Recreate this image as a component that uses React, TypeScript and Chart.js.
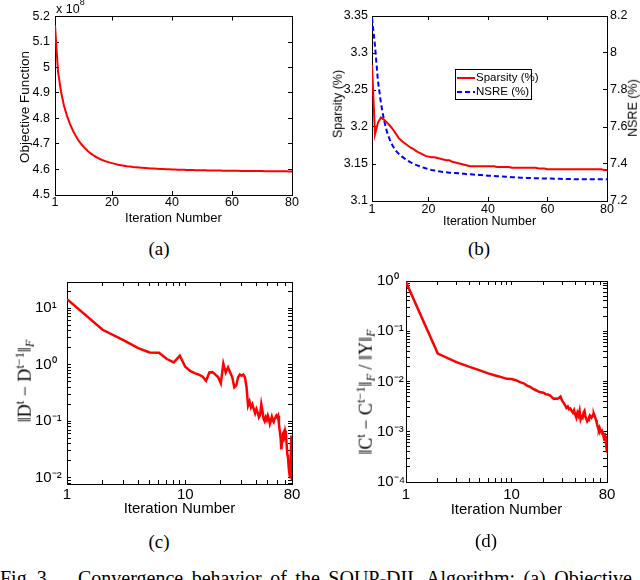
import React, { useEffect, useRef } from "react";
import { Chart, registerables } from "chart.js";

Chart.register(...registerables);

// ---------- data ----------
const iterations = [
  1, 2, 3, 4, 5, 6, 7, 8, 9, 10, 11, 12, 13, 14, 15, 16, 17, 18, 19, 20,
  21, 22, 23, 24, 25, 26, 27, 28, 29, 30, 31, 32, 33, 34, 35, 36, 37, 38, 39, 40,
  41, 42, 43, 44, 45, 46, 47, 48, 49, 50, 51, 52, 53, 54, 55, 56, 57, 58, 59, 60,
  61, 62, 63, 64, 65, 66, 67, 68, 69, 70, 71, 72, 73, 74, 75, 76, 77, 78, 79, 80,
];

// (a) objective function, in units of 1e8
const objectiveE8 = [
  5.165, 4.985, 4.905, 4.85, 4.81, 4.778, 4.752, 4.73, 4.711, 4.696,
  4.683, 4.672, 4.662, 4.654, 4.647, 4.641, 4.636, 4.632, 4.628, 4.625,
  4.622, 4.619, 4.617, 4.615, 4.613, 4.612, 4.61, 4.609, 4.608, 4.607,
  4.606, 4.605, 4.604, 4.604, 4.603, 4.602, 4.602, 4.601, 4.601, 4.6,
  4.6, 4.599, 4.599, 4.599, 4.598, 4.598, 4.598, 4.597, 4.597, 4.597,
  4.597, 4.596, 4.596, 4.596, 4.596, 4.596, 4.595, 4.595, 4.595, 4.595,
  4.595, 4.595, 4.594, 4.594, 4.594, 4.594, 4.594, 4.594, 4.594, 4.594,
  4.593, 4.593, 4.593, 4.593, 4.593, 4.593, 4.593, 4.593, 4.592, 4.592,
];

// (b) sparsity (%) and NSRE (%)
const sparsity = [
  3.284, 3.19, 3.206, 3.213, 3.21, 3.206, 3.202, 3.197, 3.191, 3.185,
  3.181, 3.178, 3.175, 3.172, 3.17, 3.167, 3.165, 3.163, 3.161, 3.16,
  3.159, 3.159, 3.158, 3.157, 3.156, 3.155, 3.155, 3.153, 3.152, 3.151,
  3.15, 3.149, 3.148, 3.147, 3.147, 3.147, 3.147, 3.147, 3.147, 3.147,
  3.147, 3.147, 3.146, 3.146, 3.146, 3.146, 3.146, 3.145, 3.145, 3.145,
  3.145, 3.145, 3.145, 3.145, 3.145, 3.145, 3.144, 3.144, 3.144, 3.143,
  3.143, 3.143, 3.143, 3.143, 3.143, 3.143, 3.143, 3.143, 3.143, 3.143,
  3.143, 3.143, 3.143, 3.143, 3.143, 3.143, 3.143, 3.143, 3.142, 3.142,
];
const nsre = [
  8.19, 8.04, 7.85, 7.73, 7.64, 7.575, 7.53, 7.497, 7.472, 7.455,
  7.441, 7.429, 7.418, 7.409, 7.401, 7.394, 7.388, 7.382, 7.377, 7.372,
  7.368, 7.365, 7.362, 7.359, 7.357, 7.355, 7.353, 7.352, 7.351, 7.35,
  7.348, 7.347, 7.345, 7.344, 7.343, 7.342, 7.341, 7.34, 7.338, 7.337,
  7.336, 7.335, 7.334, 7.333, 7.332, 7.331, 7.33, 7.329, 7.328, 7.327,
  7.326, 7.326, 7.325, 7.325, 7.324, 7.323, 7.323, 7.322, 7.322, 7.321,
  7.321, 7.32, 7.32, 7.32, 7.319, 7.319, 7.319, 7.319, 7.318, 7.318,
  7.318, 7.318, 7.318, 7.318, 7.317, 7.317, 7.317, 7.317, 7.317, 7.317,
];

// (c) ||D^t - D^{t-1}||_F
const dictDiff = [
  14.4, 4.15, 2.72, 1.97, 1.65, 1.63, 1.26, 1.1, 1.44, 0.92,
  0.78, 0.71, 0.67, 0.62, 0.52, 0.73, 0.74, 0.67, 0.6, 0.47,
  1.05, 0.73, 0.9, 0.73, 0.6, 0.4, 0.43, 0.6, 0.67, 0.64,
  0.67, 0.6, 0.4, 0.19, 0.225, 0.177, 0.2, 0.165, 0.138, 0.165,
  0.144, 0.118, 0.13, 0.2, 0.154, 0.11, 0.1, 0.118, 0.106, 0.126,
  0.11, 0.09, 0.103, 0.12, 0.103, 0.097, 0.11, 0.118, 0.126, 0.118,
  0.126, 0.09, 0.068, 0.052, 0.032, 0.045, 0.06, 0.064, 0.056, 0.068,
  0.06, 0.04, 0.026, 0.023, 0.0155, 0.0118, 0.0103, 0.0177, 0.056, 0.009,
];

// (d) ||C^t - C^{t-1}||_F / ||Y||_F
const coefDiff = [
  0.95, 0.036, 0.0242, 0.0195, 0.0166, 0.0145, 0.0132, 0.0122, 0.0113, 0.0112,
  0.0106, 0.0097, 0.0092, 0.0083, 0.0078, 0.0071, 0.0067, 0.0063, 0.0061, 0.006,
  0.0056, 0.0055, 0.0053, 0.0049, 0.0045, 0.0046, 0.0045, 0.0047, 0.005, 0.0042,
  0.0038, 0.0034, 0.003, 0.0032, 0.0028, 0.0029, 0.0026, 0.0024, 0.0027, 0.0022,
  0.0019, 0.0024, 0.0021, 0.0026, 0.00176, 0.002, 0.0019, 0.0024, 0.0026, 0.002,
  0.0018, 0.0016, 0.0017, 0.0019, 0.0021, 0.002, 0.0019, 0.002, 0.0022, 0.0023,
  0.0021, 0.0019, 0.0017, 0.0015, 0.0013, 0.0012, 0.0011, 0.0012, 0.00108, 0.00103,
  0.00097, 0.00103, 0.00095, 0.00085, 0.0007, 0.00095, 0.0008, 0.00061, 0.00048, 0.00038,
];

// ---------- ticks ----------
const xTicksLinear = [1, 20, 40, 60, 80];
const yTicksObjective = [4.5, 4.6, 4.7, 4.8, 4.9, 5, 5.1, 5.2];
const yTicksSparsity = [3.1, 3.15, 3.2, 3.25, 3.3, 3.35];
const yTicksNsre = [7.2, 7.4, 7.6, 7.8, 8, 8.2];
const xLogLabels = [1, 10, 80];
const logSteps = [1, 2, 3, 4, 5, 6, 7, 8, 9];
const xDecades = [1, 10];
const yDecadesC = [0.001, 0.01, 0.1, 1, 10];
const yDecadesD = [0.0001, 0.001, 0.01, 0.1, 1];

const SANS = '"Liberation Sans", Arial, Helvetica, sans-serif';
const SERIF = '"Liberation Serif", "Times New Roman", Times, serif';
const RED = "rgb(255,0,0)";
const BLUE = "rgb(0,0,255)";

const SUP: Record<string, string> = { "0": "⁰", "1": "¹", "2": "²", "3": "³", "4": "⁴", "5": "⁵", "-": "⁻" };
const pow10Label = (v: number) =>
  "10" + String(Math.round(Math.log10(v))).split("").map((c) => SUP[c] ?? c).join("");

const logTicks = (decades: number[], min: number, max: number) =>
  decades
    .flatMap((d) => logSteps.map((m) => m * d))
    .filter((v) => v >= min * 0.9999 && v <= max * 1.0001);

type Pos = "left" | "right" | "top" | "bottom";
function frameAxis(o: {
  type: "linear" | "logarithmic";
  position: Pos;
  min: number;
  max: number;
  tickValues: number[];
  showLabels: boolean;
  thickness: number;
  fontSize?: number;
  padding?: number;
  crossAlign?: "near" | "far" | "center";
  format?: (v: number) => string;
  title?: { text: string; size: number; bottom: number };
}) {
  const vertical = o.position === "left" || o.position === "right";
  return {
    type: o.type,
    position: o.position,
    min: o.min,
    max: o.max,
    afterBuildTicks: (s: any) => {
      s.ticks = o.tickValues.map((v) => ({ value: v }));
    },
    afterFit: (s: any) => {
      if (vertical) s.width = o.thickness;
      else s.height = o.thickness;
    },
    ticks: {
      display: o.showLabels,
      autoSkip: false,
      maxRotation: 0,
      minRotation: 0,
      color: "#000",
      font: { family: SANS, size: o.fontSize ?? 12 },
      padding: o.padding ?? 0,
      crossAlign: o.crossAlign ?? "near",
      callback: (v: any) => (o.format ? o.format(Number(v)) : String(v)),
    },
    grid: {
      display: true,
      drawOnChartArea: false,
      drawTicks: true,
      tickLength: -4,
      color: "#000",
      tickColor: "#000",
      lineWidth: 1,
    },
    border: { display: true, color: "#000", width: 1 },
    title: o.title
      ? {
          display: true,
          text: o.title.text,
          color: "#000",
          font: { family: SANS, size: o.title.size },
          padding: { top: 0, bottom: o.title.bottom },
        }
      : { display: false },
  };
}

const pts = (ys: number[]) => iterations.map((x, i) => ({ x, y: ys[i] }));

const legendBoxPlugin = {
  id: "legendBox",
  afterDatasetsDraw(chart: any, _args: any, opts: any) {
    if (!opts || !opts.show) return;
    const ctx = chart.ctx;
    ctx.save();
    ctx.fillStyle = "#fff";
    ctx.fillRect(opts.x, opts.y, opts.w, opts.h);
    ctx.strokeStyle = "#000";
    ctx.lineWidth = 1;
    ctx.strokeRect(opts.x + 0.5, opts.y + 0.5, opts.w, opts.h);
    chart.data.datasets.forEach((ds: any, i: number) => {
      const cy = opts.y + opts.rowTop + i * opts.rowGap;
      ctx.strokeStyle = ds.borderColor;
      ctx.lineWidth = ds.borderWidth;
      ctx.setLineDash(ds.borderDash || []);
      ctx.beginPath();
      ctx.moveTo(opts.x + 2, cy);
      ctx.lineTo(opts.x + 20, cy);
      ctx.stroke();
      ctx.setLineDash([]);
      ctx.fillStyle = "#000";
      ctx.font = `${opts.fontSize}px ${SANS}`;
      ctx.textBaseline = "middle";
      ctx.textAlign = "left";
      ctx.fillText(ds.label, opts.x + 21, cy);
    });
    ctx.restore();
  },
};

const baseOptions = (padding: any) => ({
  responsive: false,
  maintainAspectRatio: false,
  animation: false as const,
  events: [] as any[],
  layout: { padding, autoPadding: false },
  elements: { point: { radius: 0 }, line: { tension: 0 } },
});

function configA() {
  return {
    type: "line",
    data: {
      datasets: [
        { label: "Objective Function", data: pts(objectiveE8), borderColor: RED, borderWidth: 2, fill: false, pointRadius: 0 },
      ],
    },
    options: {
      ...baseOptions({ left: 0, right: 18, top: 15, bottom: 0 }),
      plugins: { legend: { display: false }, tooltip: { enabled: false } },
      scales: {
        x: frameAxis({ type: "linear", position: "bottom", min: 1, max: 80, tickValues: xTicksLinear, showLabels: true, thickness: 37, fontSize: 12.5, padding: 4.5, title: { text: "Iteration Number", size: 13, bottom: 6 } }),
        xTop: frameAxis({ type: "linear", position: "top", min: 1, max: 80, tickValues: xTicksLinear, showLabels: false, thickness: 0 }),
        y: frameAxis({ type: "linear", position: "left", min: 4.5, max: 5.2, tickValues: yTicksObjective, showLabels: true, thickness: 55, fontSize: 12.5, padding: 9 }),
        yR: frameAxis({ type: "linear", position: "right", min: 4.5, max: 5.2, tickValues: yTicksObjective, showLabels: false, thickness: 0 }),
      },
    },
  };
}

function configB() {
  return {
    type: "line",
    data: {
      datasets: [
        { label: "Sparsity (%)", data: pts(sparsity), borderColor: RED, borderWidth: 2, fill: false, pointRadius: 0, yAxisID: "y" },
        { label: "NSRE (%)", data: pts(nsre), borderColor: BLUE, borderWidth: 2, borderDash: [5, 3], fill: false, pointRadius: 0, yAxisID: "yR" },
      ],
    },
    plugins: [legendBoxPlugin],
    options: {
      ...baseOptions({ left: 0, right: 0, top: 16, bottom: 0 }),
      plugins: {
        legend: { display: false },
        tooltip: { enabled: false },
        legendBox: { show: true, x: 135, y: 69, w: 76, h: 30, rowTop: 9, rowGap: 14, fontSize: 11.5 },
      },
      scales: {
        x: frameAxis({ type: "linear", position: "bottom", min: 1, max: 80, tickValues: xTicksLinear, showLabels: true, thickness: 34, fontSize: 12.5, padding: 5.5, title: { text: "Iteration Number", size: 12.5, bottom: 5.5 } }),
        xTop: frameAxis({ type: "linear", position: "top", min: 1, max: 80, tickValues: xTicksLinear, showLabels: false, thickness: 0 }),
        y: frameAxis({ type: "linear", position: "left", min: 3.1, max: 3.35, tickValues: yTicksSparsity, showLabels: true, thickness: 52, fontSize: 12.5, padding: 8 }),
        yR: frameAxis({ type: "linear", position: "right", min: 7.2, max: 8.2, tickValues: yTicksNsre, showLabels: true, thickness: 33, fontSize: 12.5, padding: 7 }),
      },
    },
  };
}

function configLog(o: {
  values: number[];
  yMin: number;
  yMax: number;
  decades: number[];
  padLeft: number;
  yWidth: number;
  padTop: number;
  padRight: number;
  xHeight: number;
  xPad: number;
  titleBottom: number;
}) {
  const xt = logTicks(xDecades, 1, 80);
  const yt = logTicks(o.decades, o.yMin, o.yMax);
  const yFmt = (v: number) => (o.decades.includes(v) ? pow10Label(v) : "");
  const xFmt = (v: number) => (xLogLabels.includes(v) ? String(v) : "");
  return {
    type: "line",
    data: {
      datasets: [{ label: "diff", data: pts(o.values), borderColor: RED, borderWidth: 2.5, fill: false, pointRadius: 0 }],
    },
    options: {
      ...baseOptions({ left: o.padLeft, right: o.padRight, top: o.padTop, bottom: 0 }),
      plugins: { legend: { display: false }, tooltip: { enabled: false } },
      scales: {
        x: frameAxis({ type: "logarithmic", position: "bottom", min: 1, max: 80, tickValues: xt, showLabels: true, thickness: o.xHeight, fontSize: 15, padding: o.xPad, format: xFmt, title: { text: "Iteration Number", size: 15, bottom: o.titleBottom } }),
        xTop: frameAxis({ type: "logarithmic", position: "top", min: 1, max: 80, tickValues: xt, showLabels: false, thickness: 0 }),
        y: frameAxis({ type: "logarithmic", position: "left", min: o.yMin, max: o.yMax, tickValues: yt, showLabels: true, thickness: o.yWidth, fontSize: 15, padding: 0, crossAlign: "far", format: yFmt }),
        yR: frameAxis({ type: "logarithmic", position: "right", min: o.yMin, max: o.yMax, tickValues: yt, showLabels: false, thickness: 0 }),
      },
    },
  };
}

function ChartBox(props: { left: number; top: number; width: number; height: number; make: () => any }) {
  const ref = useRef<HTMLCanvasElement>(null);
  useEffect(() => {
    const chart = new Chart(ref.current as HTMLCanvasElement, props.make());
    return () => chart.destroy();
  }, []);
  return (
    <canvas
      ref={ref}
      width={props.width}
      height={props.height}
      style={{ position: "absolute", left: props.left, top: props.top, width: props.width, height: props.height }}
    />
  );
}

function Label(props: { cx: number; cy: number; size: number; font?: string; rotate?: boolean; children: React.ReactNode }) {
  return (
    <div
      style={{
        position: "absolute",
        left: props.cx,
        top: props.cy,
        transform: `translate(-50%, -50%)${props.rotate ? " rotate(-90deg)" : ""}`,
        whiteSpace: "nowrap",
        fontFamily: props.font ?? SANS,
        fontSize: props.size,
        lineHeight: 1,
        color: "#000",
      }}
    >
      {props.children}
    </div>
  );
}

const supS: React.CSSProperties = { fontSize: "0.68em", verticalAlign: "0.55em" };
const subS: React.CSSProperties = { fontSize: "0.68em", verticalAlign: "-0.3em", fontStyle: "italic" };

export default function App() {
  return (
    <div style={{ position: "absolute", left: 0, top: 0, width: 640, height: 580, background: "#fff", overflow: "hidden" }}>
      <ChartBox left={0} top={0} width={310} height={232} make={configA} />
      <ChartBox left={320} top={0} width={320} height={235} make={configB} />
      <ChartBox
        left={0}
        top={270}
        width={310}
        height={260}
        make={() =>
          configLog({ values: dictDiff, yMin: 0.0078, yMax: 29, decades: yDecadesC, padLeft: 35, yWidth: 32, padTop: 12, padRight: 18, xHeight: 46, xPad: 6, titleBottom: 12 })
        }
      />
      <ChartBox
        left={320}
        top={270}
        width={320}
        height={260}
        make={() =>
          configLog({ values: coefDiff, yMin: 0.0001, yMax: 1, decades: yDecadesD, padLeft: 57, yWidth: 29, padTop: 11, padRight: 33, xHeight: 48, xPad: 8, titleBottom: 11 })
        }
      />

      {/* (a) exponent and y title */}
      <div style={{ position: "absolute", left: 56, top: 2, fontFamily: SANS, fontSize: 12.5, lineHeight: "14px", whiteSpace: "nowrap" }}>
        x 10<span style={{ fontSize: 9, position: "relative", top: -8 }}>8</span>
      </div>
      <Label cx={25} cy={107} size={13.5} rotate>
        Objective Function
      </Label>

      {/* (b) titles */}
      <Label cx={338} cy={104} size={12.5} rotate>
        Sparsity (%)
      </Label>
      <Label cx={633} cy={108} size={12.5} rotate>
        NSRE (%)
      </Label>

      {/* (c) and (d) y titles */}
      <Label cx={25} cy={381} size={18} font={SERIF} rotate>
        ‖D<span style={supS}>t</span> − D<span style={supS}>t−1</span>‖<span style={subS}>F</span>
      </Label>
      <Label cx={366} cy={392} size={18} font={SERIF} rotate>
        ‖C<span style={supS}>t</span> − C<span style={supS}>t−1</span>‖<span style={subS}>F</span> / ‖Y‖<span style={subS}>F</span>
      </Label>

      {/* panel letters */}
      <Label cx={159} cy={248} size={19} font={SERIF}>(a)</Label>
      <Label cx={479} cy={248} size={19} font={SERIF}>(b)</Label>
      <Label cx={159} cy={541} size={19} font={SERIF}>(c)</Label>
      <Label cx={486} cy={540} size={19} font={SERIF}>(d)</Label>

      {/* caption */}
      <div
        style={{
          position: "absolute",
          left: 0,
          top: 568,
          width: 632,
          fontFamily: SERIF,
          fontSize: 20,
          lineHeight: "20px",
          textAlign: "justify",
          textAlignLast: "justify" as any,
          whiteSpace: "normal",
          color: "#000",
        }}
      >
        <span style={{ display: "inline-block", width: 78, textAlign: "left", textAlignLast: "left" as any }}>Fig. 3.</span>
        Convergence behavior of the SOUP-DIL Algorithm: (a) Objective
      </div>
    </div>
  );
}
